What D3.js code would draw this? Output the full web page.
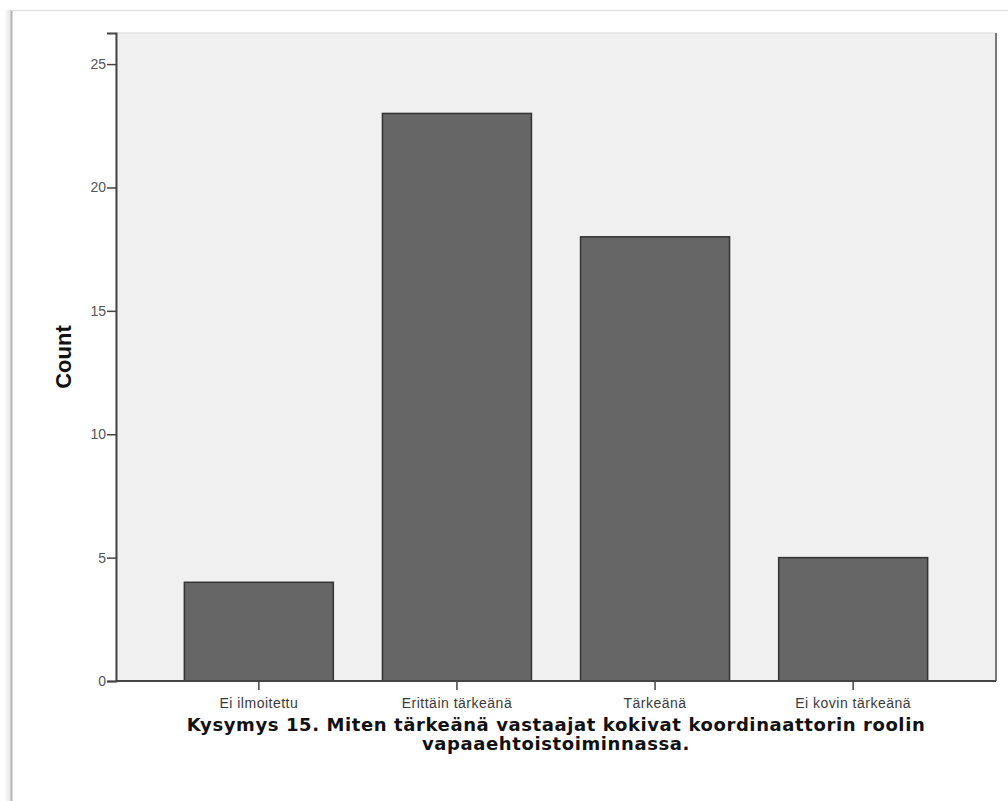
<!DOCTYPE html>
<html><head><meta charset="utf-8">
<script src="https://cdn.jsdelivr.net/npm/d3@7"></script>
<style>
html,body{margin:0;padding:0;background:#fff;}
svg{display:block;}
</style></head>
<body>
<script>
const categories = ["Ei ilmoitettu", "Erittäin tärkeänä", "Tärkeänä", "Ei kovin tärkeänä"];
const counts = [4, 23, 18, 5];
const yTicks = [0, 5, 10, 15, 20, 25];
const yLabel = "Count";
const titleLines = ["Kysymys 15. Miten tärkeänä vastaajat kokivat koordinaattorin roolin", "vapaaehtoistoiminnassa."];

const W = 1008, H = 801;
const svg = d3.select("body").append("svg").attr("width", W).attr("height", H);

// outer frame with soft shadow
const defs = svg.append("defs");
const grad = defs.append("linearGradient").attr("id","shL").attr("x1","0").attr("x2","1");
grad.append("stop").attr("offset","0").attr("stop-color","#fff");
grad.append("stop").attr("offset","1").attr("stop-color","#e4e4e4");
svg.append("rect").attr("x",4).attr("y",10).attr("width",7).attr("height",H-10).attr("fill","url(#shL)");
svg.append("line").attr("x1",11.5).attr("x2",11.5).attr("y1",10).attr("y2",H).attr("stroke","#b4b4b4").attr("stroke-width",2);
svg.append("line").attr("x1",11).attr("x2",W).attr("y1",10.5).attr("y2",10.5).attr("stroke","#dcdcdc").attr("stroke-width",1);

const pL = 116, pR = 996, pT = 33, pB = 681;

const y = d3.scaleLinear().domain([0, 26.26]).range([pB, pT]);
const x = d3.scaleBand().domain(categories).range([pL, pR]).paddingInner(0.248).paddingOuter(0.345);

// plot background
svg.append("rect").attr("x",pL).attr("y",pT).attr("width",pR-pL).attr("height",pB-pT)
  .attr("fill","#f0f0f0").attr("stroke","#d8d8d8").attr("stroke-width",1);
// right border darker
svg.append("line").attr("x1",pR).attr("x2",pR).attr("y1",pT).attr("y2",pB).attr("stroke","#7a7a7a").attr("stroke-width",2);

// bars
svg.append("g").selectAll("rect").data(categories).join("rect")
  .attr("x", d => x(d))
  .attr("y", (d,i) => y(counts[i]))
  .attr("width", x.bandwidth())
  .attr("height", (d,i) => y(0) - y(counts[i]))
  .attr("fill", "#666666")
  .attr("stroke", "#333333")
  .attr("stroke-width", 1.5);

// y axis
const yAxis = svg.append("g").attr("transform",`translate(${pL},0)`)
  .call(d3.axisLeft(y).tickValues(yTicks).tickSize(9).tickPadding(1));
yAxis.select(".domain").attr("stroke","#444").attr("stroke-width",2);
yAxis.selectAll(".tick line").attr("stroke","#444").attr("stroke-width",1.5);
yAxis.selectAll("text").attr("font-family","Liberation Sans, Arial, sans-serif").attr("font-size",14).attr("fill","#555");

// x axis
const xAxis = svg.append("g").attr("transform",`translate(0,${pB})`)
  .call(d3.axisBottom(x).tickSize(9).tickPadding(8).tickSizeOuter(0));
xAxis.select(".domain").attr("stroke","#444").attr("stroke-width",2).attr("d",`M${pL},0H${pR}`);
xAxis.selectAll(".tick line").attr("stroke","#444").attr("stroke-width",1.5);
xAxis.selectAll("text").attr("font-family","Liberation Sans, Arial, sans-serif").attr("font-size",14).attr("fill","#3a3a3a")
  .attr("letter-spacing", "0.5px");

// y label
svg.append("text").attr("transform",`translate(71,${357}) rotate(-90)`)
  .attr("text-anchor","middle").attr("font-family","Liberation Sans, Arial, sans-serif")
  .attr("font-weight","bold").attr("font-size",22).attr("fill","#111").text(yLabel);

// title
const t = svg.append("text").attr("text-anchor","middle").attr("font-family","DejaVu Sans, Verdana, sans-serif")
  .attr("font-weight","bold").attr("font-size",18).attr("fill","#111").attr("letter-spacing","0.6px");
titleLines.forEach((l,i) => t.append("tspan").attr("x",556).attr("y",731 + i*19).text(l));
</script>
</body></html>
